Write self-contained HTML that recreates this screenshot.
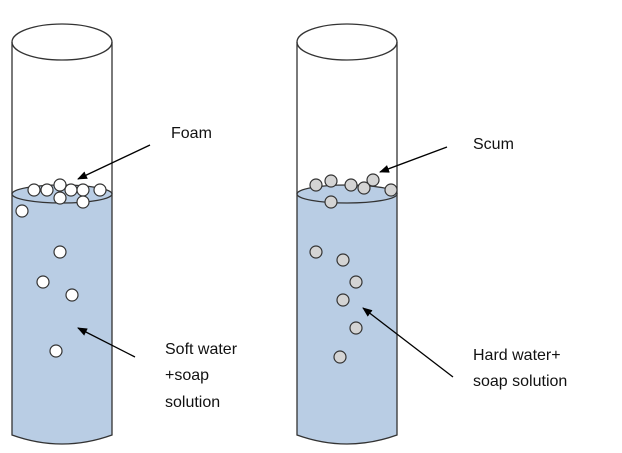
<!DOCTYPE html>
<html><head><style>
html,body{margin:0;padding:0;background:#fff;}
svg{display:block;}
text{font-family:"Liberation Sans",sans-serif;font-size:16px;fill:#111;}
</style></head><body>
<svg width="622" height="453" viewBox="0 0 622 453" xmlns="http://www.w3.org/2000/svg">
<defs><marker id="a" markerWidth="10" markerHeight="8" refX="9" refY="4" orient="auto" markerUnits="userSpaceOnUse"><path d="M0,0 L10,4 L0,8 Z" fill="#000"/></marker></defs>
<g stroke="#333" stroke-width="1.3">
<path d="M12,194 L12,435 Q62,453 112,435 L112,194 Z" fill="#b9cde4"/>
<ellipse cx="62" cy="194" rx="50" ry="9" fill="#b9cde4"/>
<ellipse cx="62" cy="42" rx="50" ry="18" fill="none"/>
<line x1="12" y1="42" x2="12" y2="194"/><line x1="112" y1="42" x2="112" y2="194"/>
<path d="M297,194 L297,435 Q347,453 397,435 L397,194 Z" fill="#b9cde4"/>
<ellipse cx="347" cy="194" rx="50" ry="9" fill="#b9cde4"/>
<ellipse cx="347" cy="42" rx="50" ry="18" fill="none"/>
<line x1="297" y1="42" x2="297" y2="194"/><line x1="397" y1="42" x2="397" y2="194"/>
</g>
<g fill="#fff" stroke="#333" stroke-width="1.2">
<circle cx="34" cy="190" r="6"/><circle cx="47" cy="190" r="6"/><circle cx="71" cy="190" r="6"/><circle cx="83" cy="190" r="6"/><circle cx="60" cy="185" r="6"/><circle cx="100" cy="190" r="6"/><circle cx="60" cy="198" r="6"/><circle cx="83" cy="202" r="6"/><circle cx="22" cy="211" r="6"/>
<circle cx="60" cy="252" r="6"/><circle cx="43" cy="282" r="6"/><circle cx="72" cy="295" r="6"/><circle cx="56" cy="351" r="6"/>
</g>
<g fill="#d4d4d4" stroke="#333" stroke-width="1.2">
<circle cx="316" cy="185" r="6"/><circle cx="331" cy="181" r="6"/><circle cx="351" cy="185" r="6"/><circle cx="373" cy="180" r="6"/><circle cx="364" cy="188" r="6"/><circle cx="391" cy="190" r="6"/><circle cx="331" cy="202" r="6"/>
<circle cx="316" cy="252" r="6"/><circle cx="343" cy="260" r="6"/><circle cx="356" cy="282" r="6"/><circle cx="343" cy="300" r="6"/><circle cx="356" cy="328" r="6"/><circle cx="340" cy="357" r="6"/>
</g>
<g stroke="#000" stroke-width="1.3" marker-end="url(#a)">
<line x1="150" y1="145" x2="78" y2="179"/>
<line x1="135" y1="357" x2="78" y2="328"/>
<line x1="447" y1="147" x2="380" y2="172"/>
<line x1="453" y1="377" x2="363" y2="308"/>
</g>
<text x="171" y="138">Foam</text>
<text x="165" y="354">Soft water</text>
<text x="165" y="380">+soap</text>
<text x="165" y="407">solution</text>
<text x="473" y="149">Scum</text>
<text x="473" y="360">Hard water+</text>
<text x="473" y="386">soap solution</text>
</svg>
</body></html>
